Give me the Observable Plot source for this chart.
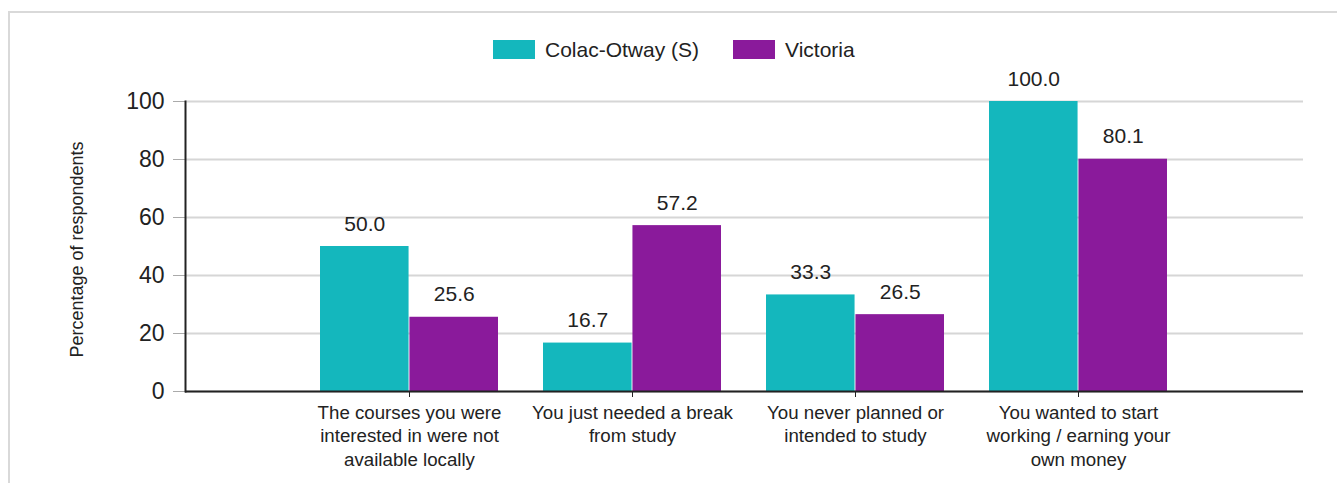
<!DOCTYPE html>
<html>
<head>
<meta charset="utf-8">
<script src="https://cdn.jsdelivr.net/npm/d3@7"></script>
<script src="https://cdn.jsdelivr.net/npm/@observablehq/plot@0.6"></script>
<style>
  html, body { margin: 0; padding: 0; background: #fff; }
  body { width: 1337px; height: 483px; overflow: hidden; position: relative; font-family: "Liberation Sans", Arial, sans-serif; color: #222; }
  #frame { position: absolute; left: 8px; top: 11px; width: 1400px; height: 600px; border: 2px solid #d9d9d9; box-sizing: border-box; pointer-events: none; }
  #legend { height: 60px; box-sizing: border-box; padding-top: 38px; padding-left: 493px; display: flex; align-items: center; }
  .item { display: flex; align-items: center; margin-right: 34px; font-size: 21px; line-height: 19px; }
  .sw { width: 42px; height: 19px; margin-right: 10px; }
  #chart svg { display: block; }
</style>
</head>
<body>
<div id="frame"></div>
<div id="legend"></div>
<div id="chart"></div>
<script>
const categories = [
  "The courses you were interested in were not available locally",
  "You just needed a break from study",
  "You never planned or intended to study",
  "You wanted to start working / earning your own money"
];
const tickLabels = [
  "The courses you were\ninterested in were not\navailable locally",
  "You just needed a break\nfrom study",
  "You never planned or\nintended to study",
  "You wanted to start\nworking / earning your\nown money"
];
const series = ["Colac-Otway (S)", "Victoria"];
const colacValues = [50.0, 16.7, 33.3, 100.0];
const victoriaValues = [25.6, 57.2, 26.5, 80.1];
const yTicks = [0, 20, 40, 60, 80, 100];
const colors = ["#14b7bd", "#8a1a9b"];
const yLabel = "Percentage of respondents";

const rows = categories.flatMap((c, i) => [
  {cat: c, series: series[0], value: colacValues[i]},
  {cat: c, series: series[1], value: victoriaValues[i]}
]);
const colacRows = rows.filter(d => d.series === series[0]);
const vicRows = rows.filter(d => d.series === series[1]);

// legend
const legend = document.getElementById("legend");
series.forEach((s, i) => {
  const it = document.createElement("div");
  it.className = "item";
  const sw = document.createElement("span");
  sw.className = "sw";
  sw.style.background = colors[i];
  it.appendChild(sw);
  it.appendChild(document.createTextNode(s));
  legend.appendChild(it);
});

const W = 1337, ML = 185, MR = 34;
const PI = 0.2, PO = 0.6;
const step = (W - ML - MR) / (categories.length - PI + 2 * PO);
const bw = step * (1 - PI);

const chart = Plot.plot({
  width: W,
  height: 423,
  marginLeft: ML,
  marginRight: MR,
  marginTop: 41,
  marginBottom: 92,
  style: {fontFamily: "'Liberation Sans', Arial, sans-serif", color: "#222", background: "transparent"},
  x: {domain: categories, paddingInner: PI, paddingOuter: PO, label: null},
  y: {domain: [0, 100], label: null},
  color: {domain: series, range: colors},
  marks: [
    Plot.gridY(yTicks, {stroke: "#d6d6d6", strokeOpacity: 1, strokeWidth: 2}),
    Plot.axisY(yTicks, {tickSize: 12, tickPadding: 9, fontSize: 23, stroke: "#aaa", fill: "#222", label: null}),
    Plot.barY(colacRows, {x: "cat", y: "value", fill: "series", insetRight: bw / 2}),
    Plot.barY(vicRows, {x: "cat", y: "value", fill: "series", insetLeft: bw / 2}),
    Plot.text(colacRows, {x: "cat", y: "value", text: d => d.value.toFixed(1), dx: -bw / 4, dy: -16, lineAnchor: "bottom", fontSize: 21, fill: "#222"}),
    Plot.text(vicRows, {x: "cat", y: "value", text: d => d.value.toFixed(1), dx: bw / 4, dy: -16, lineAnchor: "bottom", fontSize: 21, fill: "#222"}),
    Plot.axisX({tickSize: 6, tickPadding: 5, fontSize: 18.7, lineHeight: 1.25, stroke: "#222", fill: "#222", label: null,
      tickFormat: d => tickLabels[categories.indexOf(d)]}),
    Plot.ruleY([0], {stroke: "#222", strokeWidth: 2}),
    Plot.frame({anchor: "left", stroke: "#222", strokeWidth: 2}),
    Plot.text([yLabel], {frameAnchor: "left", textAnchor: "middle", rotate: -90, dx: -108, dy: 3, fontSize: 18, fill: "#222"})
  ]
});
document.getElementById("chart").appendChild(chart);
</script>
</body>
</html>
